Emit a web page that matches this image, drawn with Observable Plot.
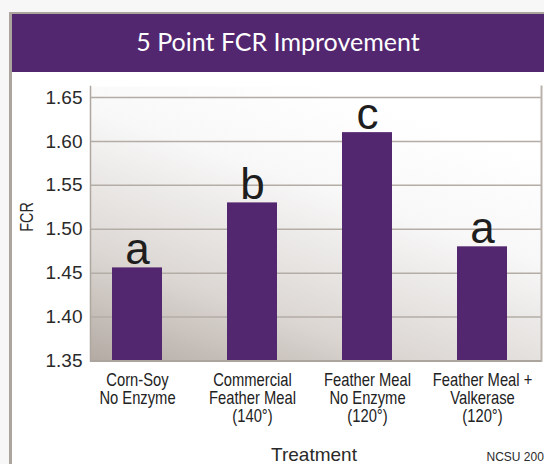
<!DOCTYPE html>
<html><head><meta charset="utf-8">
<script src="https://cdn.jsdelivr.net/npm/d3@7"></script>
<script src="https://cdn.jsdelivr.net/npm/@observablehq/plot@0.6"></script>
<style>
html,body{margin:0;padding:0;background:#f7f7f7;width:544px;height:464px;overflow:hidden}
#card{position:absolute;left:9px;top:12px;width:535px;height:452px;background:#fff;border-left:3px solid #aba59d;border-top:2px solid #aba59d;box-sizing:border-box}
#header{height:58px;background:#52276f;color:#fff;font-family:Lato,"Open Sans",sans-serif;font-size:25px;text-align:center;line-height:55px}
#chart svg{display:block}
</style></head><body>
<div id="card"><div id="header">5 Point FCR Improvement</div><div id="chart"></div></div>
<script>
const treatments = [
  "Corn-Soy\nNo Enzyme",
  "Commercial\nFeather Meal\n(140°)",
  "Feather Meal\nNo Enzyme\n(120°)",
  "Feather Meal +\nValkerase\n(120°)"
];
const fcr = [1.456, 1.530, 1.610, 1.480];
const letters = ["a", "b", "c", "a"];
const yTicks = [1.35, 1.40, 1.45, 1.50, 1.55, 1.60, 1.65];
const yLabel = "FCR";
const xLabel = "Treatment";
const source = "NCSU 2008";

const data = treatments.map((t, i) => ({t, v: fcr[i], l: letters[i]}));
const regular = "'Liberation Sans',Arial,sans-serif";

const gradient = () => {
  const defs = d3.create("svg:defs");
  const g = defs.append("linearGradient").attr("id", "bg")
    .attr("x1", 0).attr("y1", 1).attr("x2", 0.55).attr("y2", 0);
  g.append("stop").attr("offset", 0).attr("stop-color", "#b3aaa3");
  g.append("stop").attr("offset", 0.3).attr("stop-color", "#dbd6d2");
  g.append("stop").attr("offset", 0.7).attr("stop-color", "#f8f8f8");
  g.append("stop").attr("offset", 1).attr("stop-color", "#ffffff");
  return defs.node();
};

const chart = Plot.plot({
  width: 532, height: 392,
  marginLeft: 78, marginRight: 3, marginTop: 14, marginBottom: 103.5,
  style: {background: "transparent", fontFamily: regular, overflow: "visible"},
  x: {domain: treatments, paddingInner: 0.568, paddingOuter: 0.284, insetLeft: -12, label: null},
  y: {domain: [yTicks[0], yTicks[yTicks.length - 1]], insetTop: 11, label: null},
  marks: [
    gradient,
    Plot.frame({fill: "url(#bg)", stroke: null}),
    Plot.ruleY(yTicks.slice(1), {stroke: "#b4ada6", strokeWidth: 1.5}),
    Plot.frame({anchor: "left", stroke: "#aea79f", strokeWidth: 1.5, strokeOpacity: 1}),
    Plot.frame({anchor: "right", stroke: "#b8b2ab", strokeWidth: 2, strokeOpacity: 1}),
    Plot.barY(data, {x: "t", y1: yTicks[0], y2: "v", fill: "#52276f"}),
    Plot.ruleY([yTicks[0]], {stroke: "#aca59e", strokeWidth: 2}),
    Plot.text(data, {x: "t", y: "v", text: "l", lineAnchor: "bottom", dy: -4, fontSize: 44, fill: "#1e1e1e"}),
    Plot.axisY({ticks: yTicks, tickSize: 0, tickPadding: 8, fontSize: 19, fill: "#2a2a2a", tickFormat: d3.format(".2f"), label: null}),
    Plot.axisX({tickSize: 0, tickPadding: 12, fontSize: 18, lineHeight: 1, fill: "#222", label: null, lineAnchor: "top", className: "narrow"}),
    Plot.text([yLabel], {text: d => d, frameAnchor: "left", rotate: -90, dx: -63, dy: 8, fontSize: 18.5, fill: "#2a2a2a", lineAnchor: "middle", className: "narrowy"}),
    Plot.text([xLabel], {text: d => d, frameAnchor: "bottom", dx: -2, dy: 99.5, lineAnchor: "bottom", fontSize: 19, fill: "#2a2a2a"}),
    Plot.text([source], {text: d => d, frameAnchor: "bottom-right", dx: -55, dy: 99.5, lineAnchor: "bottom", textAnchor: "start", fontSize: 12, fill: "#2a2a2a"})
  ]
});
// condensed look: compress text horizontally (no narrow font installed)
const squeeze = (sel, k) => d3.select(chart).selectAll(sel).each(function() {
  const t = this.getAttribute("transform") || "";
  this.setAttribute("transform", t + ` scale(${k},1)`);
});
squeeze(".narrow text", 0.82);
squeeze(".narrowy text", 0.78);
document.getElementById("chart").append(chart);
</script>
</body></html>
